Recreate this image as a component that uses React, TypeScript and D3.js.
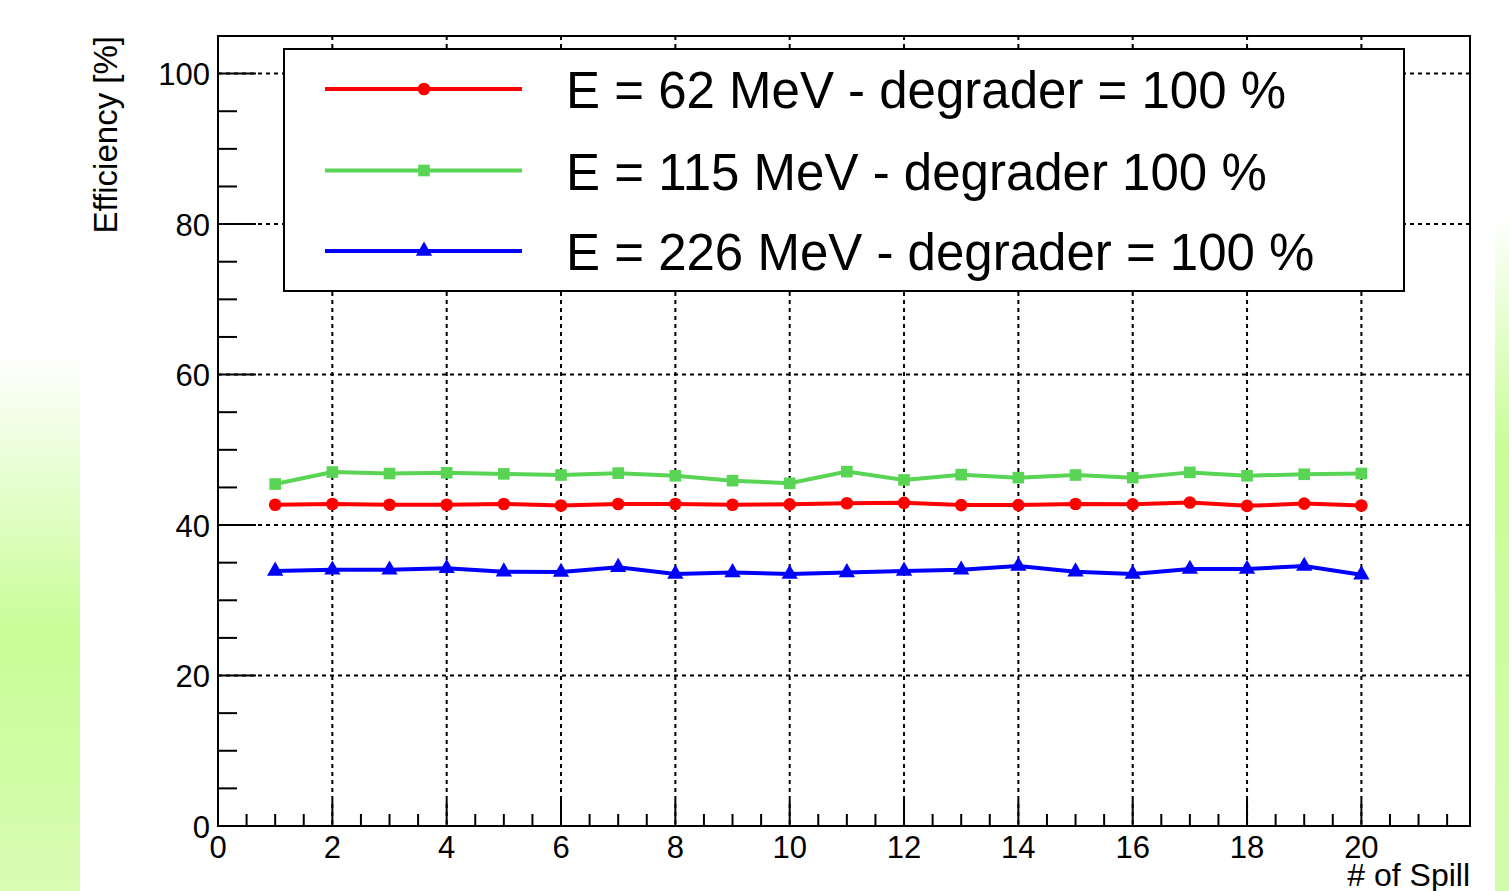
import React, { useEffect, useRef } from "react";
import * as d3 from "d3";

// spill numbers
var spills = [1, 2, 3, 4, 5, 6, 7, 8, 9, 10, 11, 12, 13, 14, 15, 16, 17, 18, 19, 20];

// efficiency [%] per spill
var eff62 = [42.7, 42.8, 42.7, 42.7, 42.8, 42.6, 42.8, 42.8, 42.7, 42.75, 42.9, 42.95, 42.65, 42.65, 42.8, 42.75, 43.0, 42.55, 42.85, 42.6];
var eff115 = [45.45, 47.05, 46.85, 46.95, 46.8, 46.65, 46.9, 46.55, 45.9, 45.55, 47.1, 46.0, 46.7, 46.3, 46.65, 46.3, 47.0, 46.55, 46.75, 46.85];
var eff226 = [33.9, 34.05, 34.05, 34.25, 33.8, 33.75, 34.4, 33.5, 33.7, 33.5, 33.7, 33.9, 34.05, 34.55, 33.8, 33.5, 34.15, 34.15, 34.55, 33.4];

var seriesNames = [
  "E = 62 MeV - degrader = 100 %",
  "E = 115 MeV - degrader 100 %",
  "E = 226 MeV - degrader = 100 %"
];
var seriesColors = ["#ff0000", "#59d454", "#0000ff"];
var seriesSymbols = [d3.symbolCircle, d3.symbolSquare, d3.symbolTriangle];
var symbolSizes = [125, 135, 115];

var xMajorTicks = [0, 2, 4, 6, 8, 10, 12, 14, 16, 18, 20];
var yMajorTicks = [0, 20, 40, 60, 80, 100];

var xTitle = "# of Spill";
var yTitle = "Efficiency [%]";

var FONT = "'Liberation Sans', Arial, Helvetica, sans-serif";

export default function App() {
  const ref = useRef<SVGSVGElement>(null);

  useEffect(() => {
    var svg = d3.select(ref.current);
    svg.selectAll("*").remove();

    var W = 1509;
    var H = 891;
    var left = 218, right = 1470, top = 36, bottom = 826;

    var x = d3.scaleLinear().domain([0, 21.9]).range([left, right]);
    var y = d3.scaleLinear().domain([0, 105]).range([bottom, top]);

    // slide background strips
    var defs = svg.append("defs");
    var grad = defs
      .append("linearGradient")
      .attr("id", "strip")
      .attr("x1", 0).attr("y1", 0).attr("x2", 0).attr("y2", 1);
    grad.append("stop").attr("offset", "0%").attr("stop-color", "#ffffff");
    grad.append("stop").attr("offset", "52%").attr("stop-color", "#c8fd96");
    grad.append("stop").attr("offset", "100%").attr("stop-color", "#d8fcb3");

    var grad2 = defs
      .append("linearGradient")
      .attr("id", "strip2")
      .attr("x1", 0).attr("y1", 0).attr("x2", 0).attr("y2", 1);
    grad2.append("stop").attr("offset", "0%").attr("stop-color", "#ffffff");
    grad2.append("stop").attr("offset", "35%").attr("stop-color", "#c8fd96");
    grad2.append("stop").attr("offset", "100%").attr("stop-color", "#d4fcad");

    svg.append("rect").attr("width", W).attr("height", H).attr("fill", "#ffffff");
    svg.append("rect").attr("x", 0).attr("y", 355).attr("width", 80).attr("height", H - 355).attr("fill", "url(#strip)");
    svg.append("rect").attr("x", 1495).attr("y", 213).attr("width", 14).attr("height", H - 213).attr("fill", "url(#strip2)");

    // grid
    var gridX = xMajorTicks.filter(d => d > 0);
    var gridY = yMajorTicks.filter(d => d > 0);
    svg
      .selectAll(".gx")
      .data(gridX)
      .enter()
      .append("line")
      .attr("x1", d => x(d)).attr("x2", d => x(d))
      .attr("y1", top).attr("y2", bottom)
      .attr("stroke", "#000").attr("stroke-width", 2)
      .attr("stroke-dasharray", "4 4");
    svg
      .selectAll(".gy")
      .data(gridY)
      .enter()
      .append("line")
      .attr("y1", d => y(d)).attr("y2", d => y(d))
      .attr("x1", left).attr("x2", right)
      .attr("stroke", "#000").attr("stroke-width", 2)
      .attr("stroke-dasharray", "4 4");

    // ticks
    var xMinor = d3.range(0, 21.9, 0.5);
    svg
      .selectAll(".tx")
      .data(xMinor)
      .enter()
      .append("line")
      .attr("x1", d => x(d)).attr("x2", d => x(d))
      .attr("y1", bottom)
      .attr("y2", d => (d % 2 === 0 ? bottom - 26 : bottom - 12))
      .attr("stroke", "#000").attr("stroke-width", 2);

    var yMinor = d3.range(0, 105.01, 5);
    svg
      .selectAll(".ty")
      .data(yMinor)
      .enter()
      .append("line")
      .attr("y1", d => y(d)).attr("y2", d => y(d))
      .attr("x1", left)
      .attr("x2", d => (d % 20 === 0 ? left + 38 : left + 19))
      .attr("stroke", "#000").attr("stroke-width", 2);

    // tick labels
    svg
      .selectAll(".lx")
      .data(xMajorTicks)
      .enter()
      .append("text")
      .attr("x", d => x(d))
      .attr("y", 858)
      .attr("text-anchor", "middle")
      .attr("font-family", FONT)
      .attr("font-size", 31)
      .text(d => d);
    svg
      .selectAll(".ly")
      .data(yMajorTicks)
      .enter()
      .append("text")
      .attr("x", 210)
      .attr("y", d => y(d) + 11.5)
      .attr("text-anchor", "end")
      .attr("font-family", FONT)
      .attr("font-size", 31)
      .text(d => d);

    // axis titles
    svg
      .append("text")
      .attr("x", right)
      .attr("y", 886)
      .attr("text-anchor", "end")
      .attr("font-family", FONT)
      .attr("font-size", 32)
      .text(xTitle);
    svg
      .append("text")
      .attr("transform", "translate(117," + top + ") rotate(-90)")
      .attr("text-anchor", "end")
      .attr("font-family", FONT)
      .attr("font-size", 33)
      .text(yTitle);

    // data
    var allSeries = [eff62, eff115, eff226];
    var line = d3
      .line<number>()
      .x((d, i) => x(spills[i]))
      .y(d => y(d));

    allSeries.forEach((vals, k) => {
      svg
        .append("path")
        .attr("d", line(vals))
        .attr("fill", "none")
        .attr("stroke", seriesColors[k])
        .attr("stroke-width", 4);
      var sym = d3.symbol().type(seriesSymbols[k]).size(symbolSizes[k]);
      svg
        .selectAll(".m" + k)
        .data(vals)
        .enter()
        .append("path")
        .attr("d", sym)
        .attr("transform", (d, i) => "translate(" + x(spills[i]) + "," + y(d) + ")")
        .attr("fill", seriesColors[k]);
    });

    // legend
    var lg = svg.append("g");
    lg.append("rect")
      .attr("x", 284).attr("y", 49)
      .attr("width", 1120).attr("height", 242)
      .attr("fill", "#ffffff")
      .attr("stroke", "#000").attr("stroke-width", 2);
    var rowY = [89, 170.5, 251];
    seriesNames.forEach((name, k) => {
      lg.append("line")
        .attr("x1", 325).attr("x2", 522)
        .attr("y1", rowY[k]).attr("y2", rowY[k])
        .attr("stroke", seriesColors[k]).attr("stroke-width", 4);
      lg.append("path")
        .attr("d", d3.symbol().type(seriesSymbols[k]).size(symbolSizes[k])())
        .attr("transform", "translate(424," + rowY[k] + ")")
        .attr("fill", seriesColors[k]);
      lg.append("text")
        .attr("x", 566)
        .attr("y", rowY[k] + 19)
        .attr("font-family", FONT)
        .attr("font-size", 51)
        .text(name);
    });

    // frame
    svg
      .append("rect")
      .attr("x", left).attr("y", top)
      .attr("width", right - left).attr("height", bottom - top)
      .attr("fill", "none")
      .attr("stroke", "#000").attr("stroke-width", 2);
  }, []);

  return (
    <svg
      ref={ref}
      width={1509}
      height={891}
      style={{ position: "absolute", left: 0, top: 0, display: "block" }}
    />
  );
}
